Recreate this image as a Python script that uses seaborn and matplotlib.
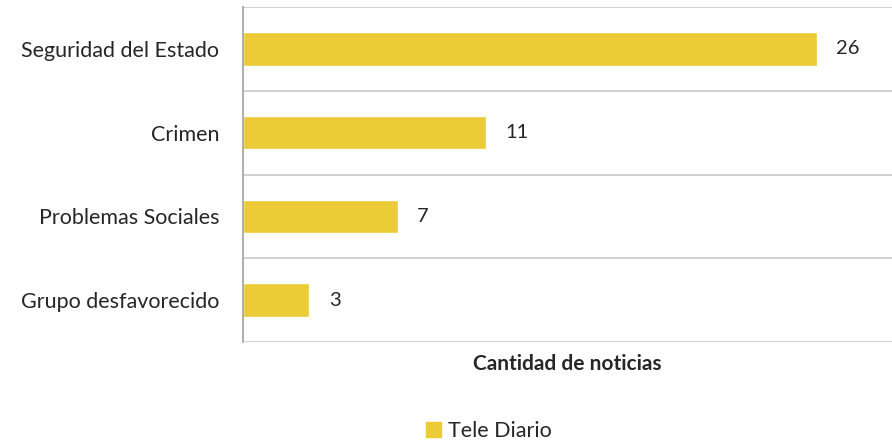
import pandas as pd
import matplotlib.pyplot as plt
import seaborn as sns
from matplotlib.patches import Patch

categorias = ['Seguridad del Estado', 'Crimen', 'Problemas Sociales', 'Grupo desfavorecido']
noticias = [26, 11, 7, 3]
serie = 'Tele Diario'
color_barra = '#EBCB36'

df = pd.DataFrame({'categoria': categorias, 'noticias': noticias})

sns.set_style('white')
plt.rcParams['font.family'] = ['Lato', 'DejaVu Sans']

fig = plt.figure(figsize=(8.92, 4.43), dpi=100)
ax = fig.add_axes([0.2724, 0.228, 0.7276, 0.756])

sns.barplot(data=df, y='categoria', x='noticias', orient='h', color=color_barra,
            width=0.4, saturation=1, ax=ax)

ax.set_xlim(0, 29.4)
ax.set_ylim(3.5, -0.5)
for b in [-0.5, 0.5, 1.5, 2.5, 3.5]:
    ax.axhline(b, color='#CACACA', lw=1.2, zorder=0)

ax.bar_label(ax.containers[0], padding=14, fontsize=14.5)
ax.set_xticks([])
ax.set_ylabel('')
ax.set_xlabel('Cantidad de noticias', fontsize=15, fontweight='bold', labelpad=9)
ax.tick_params(axis='y', labelsize=15.5, length=0, pad=17)

for s in ['top', 'right', 'bottom']:
    ax.spines[s].set_visible(False)
ax.spines['left'].set_color('#A0A0A0')
ax.spines['left'].set_linewidth(1.2)

fig.legend(handles=[Patch(color=color_barra, label=serie)], loc='lower center',
           bbox_to_anchor=(0.548, -0.04), frameon=False, fontsize=15.5,
           handlelength=0.7, handleheight=0.7, handletextpad=0.3)

plt.savefig('out.png', dpi=100)
